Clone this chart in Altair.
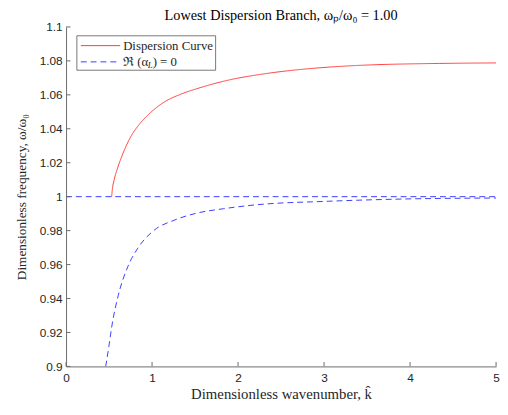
import altair as alt
import pandas as pd

# Dispersion curve (red)
disp_k = [0.53, 0.54, 0.56, 0.60, 0.65, 0.70, 0.76, 0.85, 0.95, 1.14, 1.33, 1.52, 1.90, 2.28, 2.78, 3.20, 3.58, 3.96, 4.34, 5.00]
disp_f = [1.000, 1.005, 1.010, 1.017, 1.024, 1.030, 1.036, 1.0425, 1.048, 1.0557, 1.0603, 1.0636, 1.0688, 1.0722, 1.0752, 1.0768, 1.0777, 1.0782, 1.0785, 1.0788]

# Re(alpha_L) = 0 curve (blue dashed)
alpha_k = [0.461, 0.50, 0.53, 0.606, 0.72, 0.835, 1.026, 1.255, 1.52, 1.83, 2.21, 3.05, 4.00, 5.00]
alpha_f = [0.900, 0.9125, 0.923, 0.9416, 0.959, 0.9697, 0.9803, 0.9861, 0.9903, 0.9929, 0.9952, 0.9973, 0.9987, 0.9992]

# Re(alpha_L) = 0 horizontal branch
flat_k = [0.0, 5.0]
flat_f = [1.0, 1.0]

x_ticks = [0, 1, 2, 3, 4, 5]
y_ticks = [0.90, 0.92, 0.94, 0.96, 0.98, 1.00, 1.02, 1.04, 1.06, 1.08, 1.10]

W, H = 437, 345
SERIF = "Liberation Serif"
SANS = "Liberation Sans"
RED = "#ff3b3b"
BLUE = "#3c3cff"

df = pd.concat([
    pd.DataFrame({"k": disp_k, "f": disp_f, "s": "disp", "seg": "a"}),
    pd.DataFrame({"k": alpha_k, "f": alpha_f, "s": "alpha", "seg": "b"}),
    pd.DataFrame({"k": flat_k, "f": flat_f, "s": "alpha", "seg": "c"}),
])

xs = alt.Scale(domain=[0, 5], nice=False, zero=False)
ys = alt.Scale(domain=[0.9, 1.1], nice=False, zero=False)

x_axis = alt.Axis(values=x_ticks, format="~g", labelPadding=6, titlePadding=4,
                  titleFontSize=15, labelOverlap=False, labelFlush=False)
y_axis = alt.Axis(values=y_ticks, format="~g", labelPadding=4, titlePadding=11,
                  titleFontSize=13.5, labelOverlap=False, labelFlush=False)
x_title = "Dimensionless wavenumber, k\u0302"
y_title = "Dimensionless frequency, \u03c9/\u03c9\u2080"

lines = alt.Chart(df).mark_line(strokeWidth=1, interpolate="monotone", clip=True).encode(
    x=alt.X("k:Q", scale=xs, title=x_title, axis=x_axis),
    y=alt.Y("f:Q", scale=ys, title=y_title, axis=y_axis),
    color=alt.Color("s:N", scale=alt.Scale(domain=["disp", "alpha"], range=[RED, BLUE]), legend=None),
    strokeDash=alt.StrokeDash("s:N", scale=alt.Scale(domain=["disp", "alpha"], range=[[1, 0], [6, 4]]), legend=None),
    detail="seg:N",
)

xt = alt.Chart(pd.DataFrame({"k": x_ticks})).mark_rule(color="#6b6b6b", strokeWidth=1).encode(
    x=alt.X("k:Q", scale=xs, title=x_title, axis=x_axis), y=alt.value(H), y2=alt.value(H - 4.5))
yt = alt.Chart(pd.DataFrame({"f": y_ticks})).mark_rule(color="#6b6b6b", strokeWidth=1).encode(
    y=alt.Y("f:Q", scale=ys, title=y_title, axis=y_axis), x=alt.value(0), x2=alt.value(4.5))

one = pd.DataFrame({"_": [0]})
box = alt.Chart(one).mark_rect(fill="white", stroke="#555555", strokeWidth=0.8).encode(
    x=alt.value(11), x2=alt.value(152), y=alt.value(9), y2=alt.value(44))
leg_red = alt.Chart(one).mark_rule(color=RED, strokeWidth=1).encode(
    x=alt.value(15), x2=alt.value(55), y=alt.value(19))
leg_blue = alt.Chart(one).mark_rule(color=BLUE, strokeWidth=1, strokeDash=[6, 4]).encode(
    x=alt.value(15), x2=alt.value(55), y=alt.value(35.5))
txt_kw = dict(align="left", baseline="alphabetic", font=SERIF, color="#262626")
t1 = alt.Chart(one).mark_text(fontSize=13, **txt_kw).encode(
    x=alt.value(58), y=alt.value(23), text=alt.value("Dispersion Curve"))
t2 = alt.Chart(one).mark_text(fontSize=13, **txt_kw).encode(
    x=alt.value(58), y=alt.value(39.5), text=alt.value("\u211c (\u03b1"))
t3 = alt.Chart(one).mark_text(fontSize=9, fontStyle="italic", **txt_kw).encode(
    x=alt.value(83), y=alt.value(42), text=alt.value("L"))
t4 = alt.Chart(one).mark_text(fontSize=13, **txt_kw).encode(
    x=alt.value(88), y=alt.value(39.5), text=alt.value(") = 0"))
title = alt.Chart(one).mark_text(fontSize=14.5, align="center", baseline="alphabetic",
                                 font=SERIF, color="#000000").encode(
    x=alt.value(W / 2), y=alt.value(-7.5),
    text=alt.value("Lowest Dispersion Branch, \u03c9\u209a/\u03c9\u2080 = 1.00"))

chart = alt.layer(lines, xt, yt, box, leg_red, leg_blue, t1, t2, t3, t4, title).properties(
    width=W, height=H,
    autosize=alt.AutoSizeParams(type="none"),
    padding={"left": 59, "top": 16, "right": 4, "bottom": 38},
    background="white",
).configure_view(stroke=None).configure_axis(
    grid=False, ticks=False, domainColor="#6b6b6b", domainWidth=1,
    labelFont=SANS, labelFontSize=12, labelColor="#262626",
    titleFont=SERIF, titleFontWeight="normal", titleColor="#262626",
)

chart.save("out.html", embed_options={"renderer": "svg", "actions": False})
